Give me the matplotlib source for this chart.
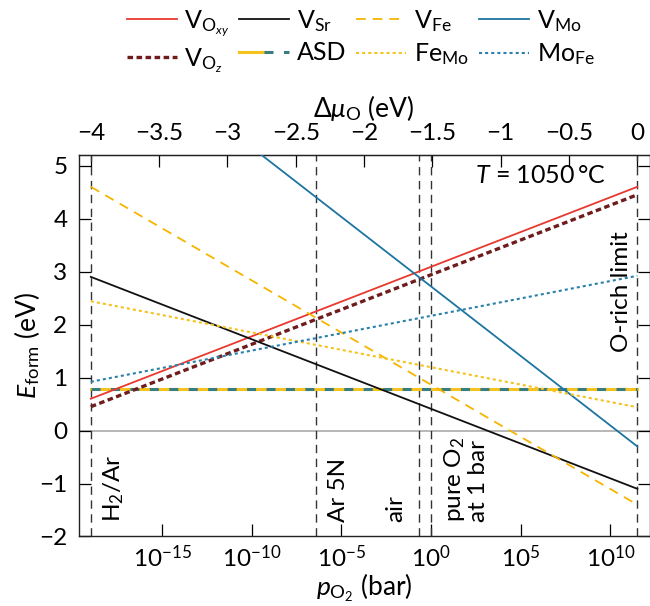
import numpy as np
import matplotlib
matplotlib.use("Agg")
import matplotlib.pyplot as plt
from matplotlib.legend_handler import HandlerTuple

plt.rcParams['font.family'] = ['Lato', 'DejaVu Sans']
plt.rcParams['mathtext.fontset'] = 'custom'
plt.rcParams['mathtext.rm'] = 'Lato'
plt.rcParams['mathtext.it'] = 'Lato:italic'
plt.rcParams['mathtext.bf'] = 'Lato:bold'
plt.rcParams['mathtext.sf'] = 'Lato'
plt.rcParams['mathtext.fallback'] = 'stixsans'
plt.rcParams['lines.scale_dashes'] = False

# ---------------- data ----------------
mu_range = [-4.0, 0.0]                 # Delta mu_O range of the defect lines (eV)
# formation energy at Delta mu_O = 0 and slope vs Delta mu_O
defect_names = ['V_Oxy', 'V_Oz', 'V_Sr', 'V_Fe', 'V_Mo', 'Fe_Mo', 'Mo_Fe']
e_at_zero = [4.60, 4.45, -1.10, -1.40, -0.30, 0.44, 2.92]
slopes = [1.0, 1.0, -1.0, -1.5, -2.0, -0.5, 0.5]
asd_energy = 0.78

T_celsius = 1050
mu_O_1bar = -1.51                       # Delta mu_O at p_O2 = 1 bar
p_decades = [-15, -10, -5, 0, 5, 10]
top_ticks = [-4, -3.5, -3, -2.5, -2, -1.5, -1, -0.5, 0]
y_ticks = [-2, -1, 0, 1, 2, 3, 4, 5]

atm_labels = ['H$_2$/Ar', 'Ar 5N', 'air', 'pure O$_2$\nat 1 bar', 'O-rich limit']
atm_mu = [-4.0, -2.352, -1.60, -1.51, 0.0]

# ---------------- style ----------------
c_red = '#e8392f'
c_dred = '#6e1c1c'
c_black = '#111111'
c_orange = '#f7b500'
c_blue = '#1c74a0'
c_yellow = '#f6c21d'
c_bdot = '#2a80aa'
c_teal = '#3a7d80'

kT = 8.617333e-5 * (T_celsius + 273.15)
dmu_per_decade = 0.5 * kT * np.log(10)

fig = plt.figure(figsize=(6.5, 6.06), dpi=100)
ax = fig.add_axes([0.1208, 0.1147, 0.8786, 0.6295])

FS_TICK = 17.5
FS_LAB = 19
FS_LEG = 18
FS_TXT = 17.5
mu = np.array(mu_range)

ax.axhline(0, color='#aaaaaa', lw=1.2, zorder=1)

styles = {
    'V_Oxy': dict(color=c_red, lw=1.3, ls='-'),
    'V_Oz': dict(color=c_dred, lw=2.4, ls=(0, (4.0, 2.5))),
    'V_Sr': dict(color=c_black, lw=1.3, ls='-'),
    'V_Fe': dict(color=c_orange, lw=1.3, ls=(0, (7, 5))),
    'V_Mo': dict(color=c_blue, lw=1.3, ls='-'),
    'Fe_Mo': dict(color=c_yellow, lw=1.5, ls=(0, (2.2, 2.2))),
    'Mo_Fe': dict(color=c_bdot, lw=1.5, ls=(0, (2.2, 2.2))),
}
labels = {
    'V_Oxy': r'V$_{\mathrm{O}_{xy}}$',
    'V_Oz': r'V$_{\mathrm{O}_z}$',
    'V_Sr': r'V$_{\mathrm{Sr}}$',
    'V_Fe': r'V$_{\mathrm{Fe}}$',
    'V_Mo': r'V$_{\mathrm{Mo}}$',
    'Fe_Mo': r'Fe$_{\mathrm{Mo}}$',
    'Mo_Fe': r'Mo$_{\mathrm{Fe}}$',
}
handles = {}
for name, e0, s in zip(defect_names, e_at_zero, slopes):
    h, = ax.plot(mu, e0 + s * mu, zorder=3, **styles[name])
    handles[name] = h

asd_x = np.array(mu_range)
asd_y = np.array([asd_energy, asd_energy])
h1, = ax.plot(asd_x, asd_y, color=c_yellow, lw=2.2, zorder=2.5)
h2, = ax.plot(asd_x, asd_y, color=c_teal, lw=2.2, ls=(0, (6.5, 7.5)), zorder=2.6)

for m in atm_mu:
    ax.axvline(m, color='#333333', lw=1.0, ls=(0, (6, 4)), zorder=2)

# atmosphere labels (left/right edge in data x, bottom in data y)
ytxt = -1.726
ax.text(-3.921, ytxt, atm_labels[0], rotation=90, ha='left', va='bottom', fontsize=FS_TXT)
ax.text(-2.264, ytxt, atm_labels[1], rotation=90, ha='left', va='bottom', fontsize=FS_TXT)
ax.text(-1.693, ytxt, atm_labels[2], rotation=90, ha='right', va='bottom', fontsize=FS_TXT)
ax.text(-1.432, ytxt, atm_labels[3], rotation=90, ha='left', va='bottom',
        fontsize=FS_TXT, multialignment='left', linespacing=1.05)
ax.text(-0.041, 1.49, atm_labels[4], rotation=90, ha='right', va='bottom', fontsize=FS_TXT)

ax.text(-0.229, 4.81, r'$T$ = %d$\,$°C' % T_celsius, ha='right', va='center', fontsize=FS_LEG)

ax.set_xlim(-4.09, 0.09)
ax.set_ylim(-2, 5.2)
ax.set_yticks(y_ticks)
ax.set_yticklabels([('−%g' % -v) if v < 0 else '%g' % v for v in y_ticks])

ax.set_xticks([mu_O_1bar + n * dmu_per_decade for n in p_decades])
ax.set_xticklabels([r'$10^{%d}$' % n if n >= 0 else r'$10^{−%d}$' % (-n) for n in p_decades])
ax.set_xlabel(r'$p_{\mathrm{O}_2}$ (bar)', fontsize=FS_LAB, labelpad=0)
ax.set_ylabel(r'$E_{\mathrm{form}}$ (eV)', fontsize=FS_LAB, labelpad=-2)

ax.tick_params(direction='in', length=8.5, width=0.9, labelsize=FS_TICK, pad=8,
               right=True, top=False)
ax.tick_params(axis='x', pad=6)

top = ax.secondary_xaxis('top')
top.set_xticks(top_ticks)
top.set_xticklabels([('−%g' % -v) if v < 0 else '%g' % v for v in top_ticks])
top.tick_params(direction='in', length=8.5, width=0.9, labelsize=FS_TICK, pad=8)
top.set_xlabel(r'$\mathit{\Delta\mu}_{\mathrm{O}}$ (eV)', fontsize=FS_LAB, labelpad=4)

for sp in ax.spines.values():
    sp.set_linewidth(1.0)
    sp.set_color('#222222')

order = ['V_Oxy', 'V_Oz', 'V_Sr', 'ASD', 'V_Fe', 'Fe_Mo', 'V_Mo', 'Mo_Fe']
hs, ls = [], []
for k in order:
    if k == 'ASD':
        hs.append((h1, h2))
        ls.append('ASD')
    else:
        hs.append(handles[k])
        ls.append(labels[k])
fig.legend(hs, ls, ncol=4, loc='upper center', bbox_to_anchor=(0.555, 1.024),
           frameon=False, fontsize=FS_LEG, handlelength=2.0, handletextpad=0.3,
           columnspacing=0.4, labelspacing=0.3,
           handler_map={tuple: HandlerTuple(ndivide=None, pad=0)})

fig.savefig('out.png', dpi=100)
